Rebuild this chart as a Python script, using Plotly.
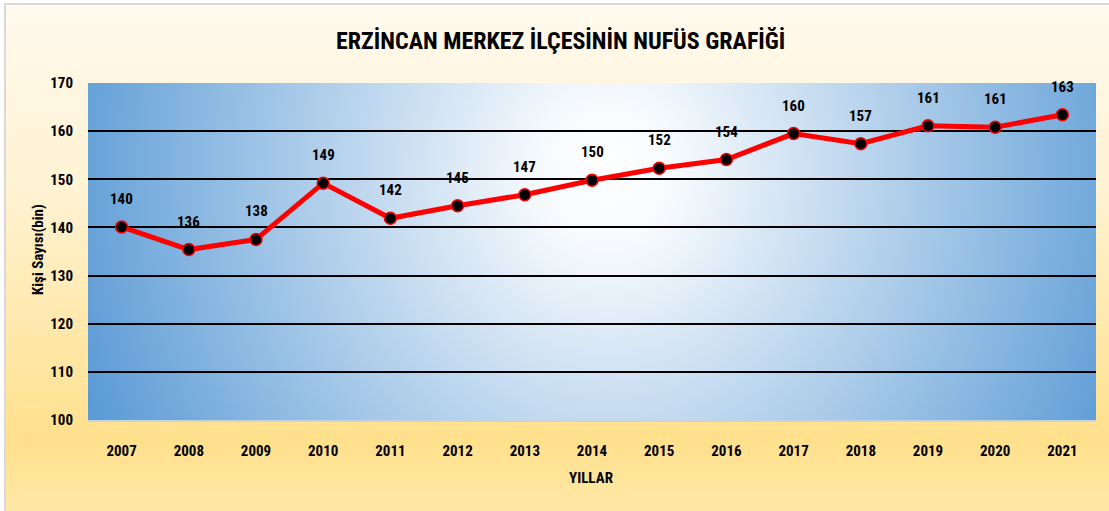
import base64
import plotly.graph_objects as go

years = ["2007", "2008", "2009", "2010", "2011", "2012", "2013", "2014",
         "2015", "2016", "2017", "2018", "2019", "2020", "2021"]
population = [140.1, 135.4, 137.5, 149.2, 141.9, 144.5, 146.8, 149.8,
              152.3, 154.1, 159.5, 157.4, 161.1, 160.8, 163.4]
labels = ["140", "136", "138", "149", "142", "145", "147", "150",
          "152", "154", "160", "157", "161", "161", "163"]
y_ticks = [100, 110, 120, 130, 140, 150, 160, 170]

W, H = 1109, 511
ML, MR, MT, MB = 88, 13, 83, 91
PW, PH = W - ML - MR, H - MT - MB

FONT = "Liberation Sans Narrow, Arial Narrow, Roboto Condensed, sans-serif"


def svg_uri(svg):
    return "data:image/svg+xml;base64," + base64.b64encode(svg.encode()).decode()


outer_svg = f"""<svg xmlns='http://www.w3.org/2000/svg' width='{W}' height='{H}' viewBox='0 0 {W} {H}' preserveAspectRatio='none'>
<defs><linearGradient id='g' x1='0' y1='0' x2='0' y2='1'>
<stop offset='0' stop-color='#FFFAEE'/>
<stop offset='0.35' stop-color='#FFF3D4'/>
<stop offset='0.85' stop-color='#FFE08C'/>
<stop offset='1' stop-color='#FFE8A8'/>
</linearGradient></defs>
<rect x='6' y='5' width='{W}' height='{H}' fill='url(#g)'/>
<rect x='0' y='0' width='{W}' height='5' fill='#FFFFFF'/>
<rect x='0' y='0' width='5' height='{H}' fill='#FFFFFF'/>
<rect x='4' y='3' width='{W}' height='2' fill='#D9D9D9'/>
<rect x='4' y='3' width='2' height='{H}' fill='#D9D9D9'/>
</svg>"""

plot_svg = f"""<svg xmlns='http://www.w3.org/2000/svg' width='{PW}' height='{PH}' viewBox='0 0 {PW} {PH}' preserveAspectRatio='none'>
<defs><radialGradient id='r' gradientUnits='userSpaceOnUse' cx='0' cy='0' r='1'
 gradientTransform='translate(520 90) scale(560 600)'>
<stop offset='0' stop-color='#FFFFFF'/>
<stop offset='0.12' stop-color='#F7FAFD'/>
<stop offset='1' stop-color='#5B9BD5'/>
</radialGradient></defs>
<rect x='0' y='0' width='{PW}' height='{PH}' fill='url(#r)'/>
</svg>"""

fig = go.Figure()
fig.add_trace(go.Scatter(
    x=years, y=population, mode="lines+markers",
    line=dict(color="#FF0000", width=5),
    marker=dict(color="#000000", size=12, line=dict(color="#FF0000", width=1.5)),
    hoverinfo="x+y", showlegend=False,
))

for i, (val, lab) in enumerate(zip(population, labels)):
    fig.add_annotation(x=i, y=val, text=f"<b>{lab}</b>", showarrow=False,
                       yshift=28, font=dict(family=FONT, size=15, color="#000000"))

fig.add_layout_image(source=svg_uri(outer_svg), xref="paper", yref="paper",
                     x=-ML / PW, y=1 + MT / PH, sizex=W / PW, sizey=H / PH,
                     xanchor="left", yanchor="top", sizing="stretch", layer="below")
fig.add_layout_image(source=svg_uri(plot_svg), xref="paper", yref="paper",
                     x=0, y=1, sizex=1, sizey=1,
                     xanchor="left", yanchor="top", sizing="stretch", layer="below")

fig.add_annotation(text="<b>ERZİNCAN MERKEZ İLÇESİNİN NUFÜS GRAFİĞİ</b>",
                   xref="paper", yref="paper", x=(560 - ML) / PW, y=1 + (MT - 41) / PH,
                   xanchor="center", yanchor="middle",
                   showarrow=False, font=dict(family=FONT, size=24, color="#000000"))
fig.add_annotation(text="<b>YILLAR</b>", xref="paper", yref="paper",
                   x=(591 - ML) / PW, y=-(478 - MT - PH) / PH,
                   xanchor="center", yanchor="middle",
                   showarrow=False, font=dict(family=FONT, size=15, color="#000000"))
fig.add_annotation(text="<b>Kişi Sayısı(bin)</b>", xref="paper", yref="paper",
                   x=-(ML - 38) / PW, y=(MT + PH - 250) / PH, textangle=-90,
                   xanchor="center", yanchor="middle",
                   showarrow=False, font=dict(family=FONT, size=15, color="#000000"))

fig.update_layout(
    width=W, height=H,
    margin=dict(l=ML, r=MR, t=MT, b=MB, autoexpand=False),
    paper_bgcolor="#FFFFFF",
    plot_bgcolor="rgba(0,0,0,0)",
    font=dict(family=FONT, size=13, color="#000000"),
    xaxis=dict(type="category", range=[-0.5, 14.5], showgrid=False, zeroline=False,
               showline=True, linecolor="#C5D3E3", linewidth=2,
               tickfont=dict(family=FONT, size=15, color="#000000", weight="bold"),
               ticks="", ticklabelstandoff=16, fixedrange=True),
    yaxis=dict(range=[100, 170], tickvals=y_ticks, showgrid=True,
               gridcolor="#000000", gridwidth=2, zeroline=False, showline=False,
               tickfont=dict(family=FONT, size=15, color="#000000", weight="bold"),
               ticks="", ticklabelstandoff=14, fixedrange=True),
)

fig.write_html("out.html", config={"displayModeBar": False},
               post_script="document.body.style.margin='0';document.body.style.padding='0';")
